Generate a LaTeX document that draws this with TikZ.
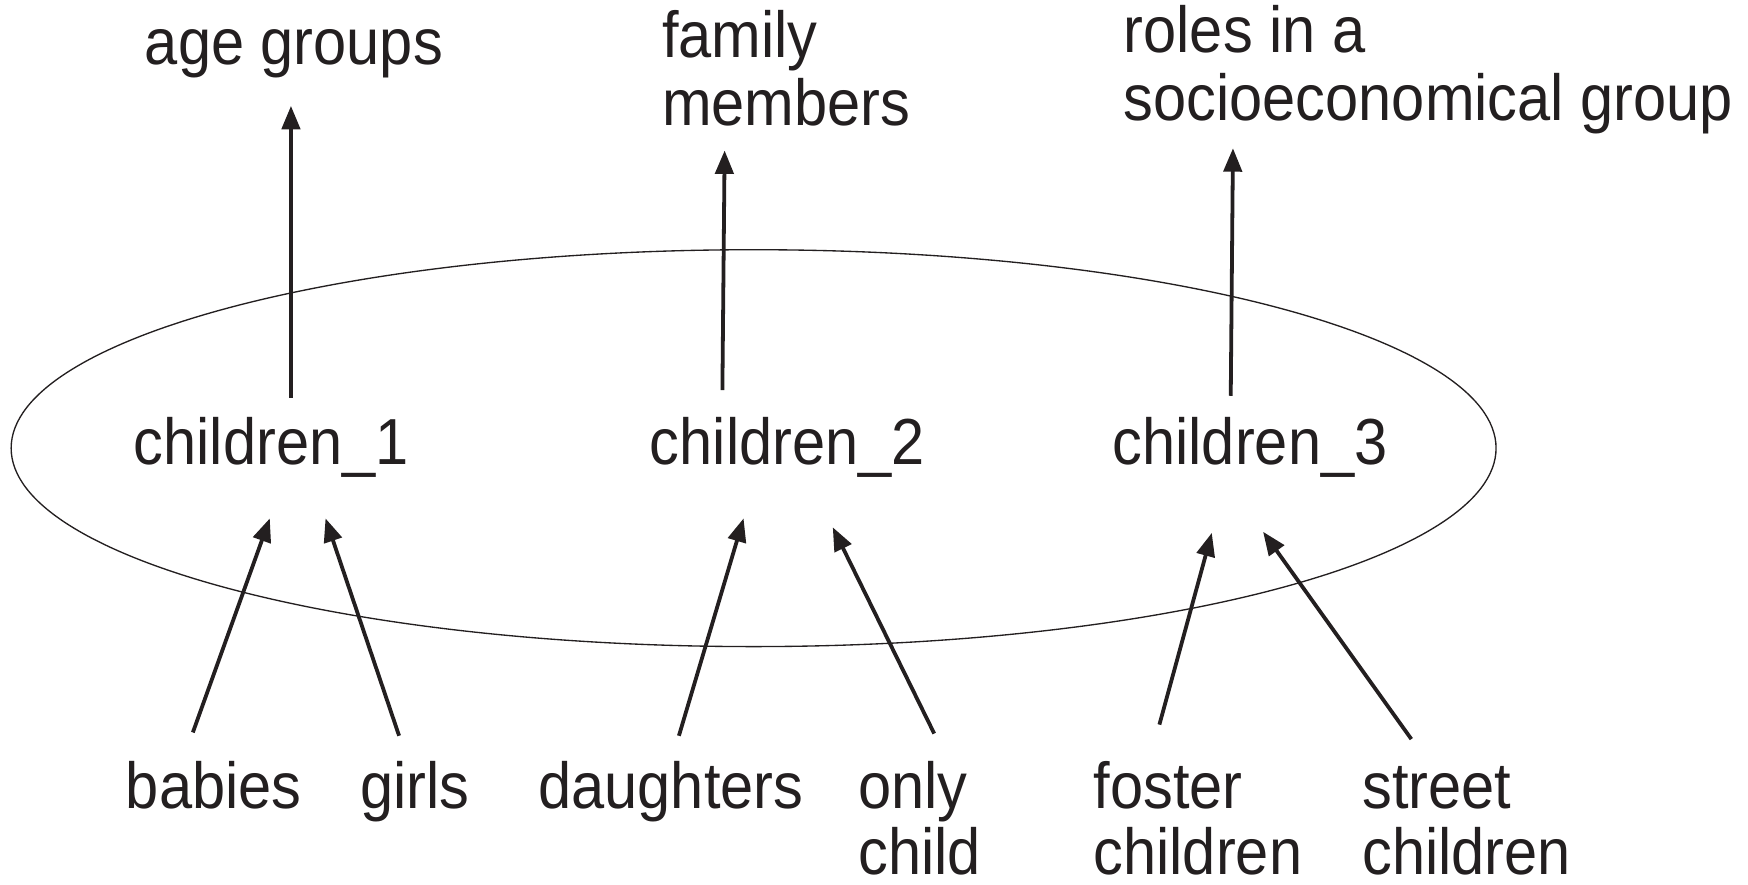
\documentclass[tikz,border=0pt]{standalone}
\usepackage{fontspec}
\setmainfont{Liberation Sans}[FakeStretch=0.915]
\usetikzlibrary{arrows.meta}
\definecolor{ink}{RGB}{35,31,32}
\newcommand{\twolines}[2]{\vtop{\hbox{#1}\hbox{#2}}}
\begin{document}
\begin{tikzpicture}[x=0.5pt,y=-0.5pt,
  lbl/.style={anchor=base west, inner sep=0pt, outer sep=0pt, text=ink,
    font=\fontsize{29.2pt}{30.5pt}\selectfont},
  lowlbl/.style={lbl, font=\fontsize{29.2pt}{29.5pt}\selectfont},
  arr/.style={draw=ink, line width=1.7pt, -{Triangle[length=10.5pt,width=8.2pt]}},
  oval/.style={draw=ink, line width=0.6pt}]
\useasboundingbox (0,0) rectangle (1568,793);

% the group
\draw[oval] (676,402) ellipse [x radius=333pt, y radius=89pt];

% top labels
\node[lbl] (age) at (130,58) {age groups};
\node[lbl] (fam) at (594,52) {\twolines{family}{members}};
\node[lbl] (roles) at (1008,47) {\twolines{roles in a}{socioeconomical group}};

% middle
\node[lbl] (c1) at (120,417) {children\_1};
\node[lbl] (c2) at (583,417) {children\_2};
\node[lbl] (c3) at (998,417) {children\_3};

% bottom labels
\node[lowlbl] (babies) at (113,725) {babies};
\node[lowlbl] (girls) at (323,725) {girls};
\node[lowlbl] (daught) at (483,725) {daughters};
\node[lowlbl] (only) at (770,725) {\twolines{only}{child}};
\node[lowlbl] (foster) at (981,725) {\twolines{foster}{children}};
\node[lowlbl] (street) at (1222,725) {\twolines{street}{children}};

% upward arrows
\draw[arr] ([shift={(141,-60)}]c1.base west) -- ([shift={(131,37)}]age.base west);
\draw[arr] ([shift={(65,-67)}]c2.base west) -- ([shift={(56,83)}]fam.base west);
\draw[arr] ([shift={(106,-62)}]c3.base west) -- ([shift={(98,86)}]roles.base west);

% arrows from below
\draw[arr] ([shift={(60,-68)}]babies.base west) -- ([shift={(122,48)}]c1.base west);
\draw[arr] ([shift={(35,-65)}]girls.base west) -- ([shift={(172,48)}]c1.base west);
\draw[arr] ([shift={(126,-65)}]daught.base west) -- ([shift={(84,48)}]c2.base west);
\draw[arr] ([shift={(68,-67)}]only.base west) -- ([shift={(164,56)}]c2.base west);
\draw[arr] ([shift={(59,-75)}]foster.base west) -- ([shift={(89,61)}]c3.base west);
\draw[arr] ([shift={(44,-62)}]street.base west) -- ([shift={(135,60)}]c3.base west);
\end{tikzpicture}
\end{document}
